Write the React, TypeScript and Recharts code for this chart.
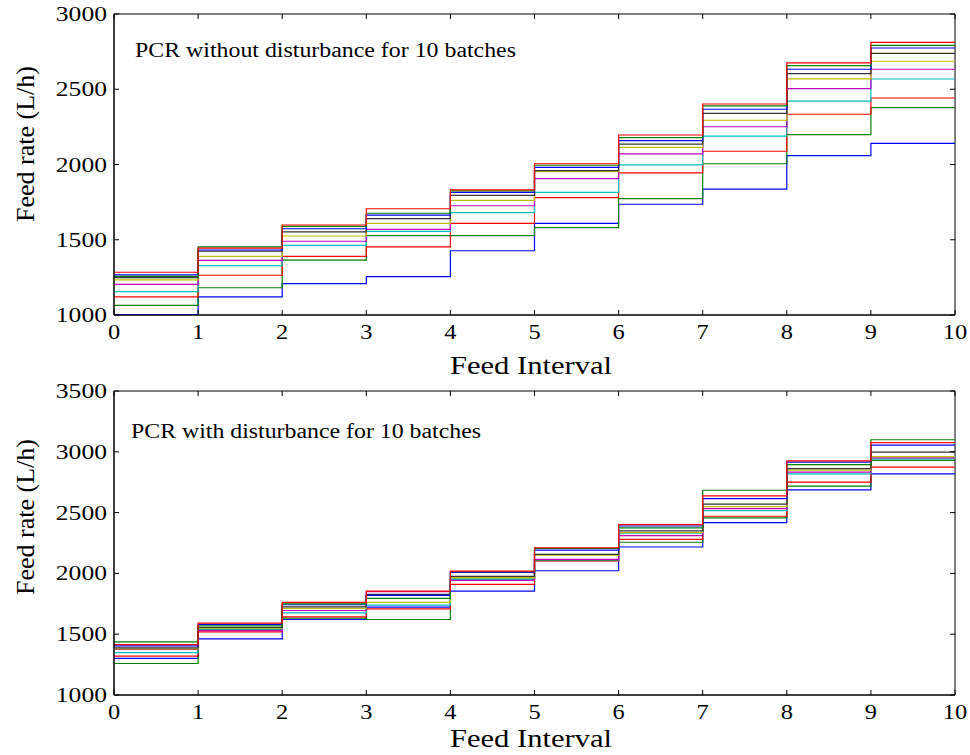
import { LineChart, Line, XAxis, YAxis, ReferenceArea } from "recharts";

// feed intervals 0..10 (last point closes the final step)
const intervals = [0, 1, 2, 3, 4, 5, 6, 7, 8, 9, 10];
const ticksTop = [1000, 1500, 2000, 2500, 3000];
const ticksBottom = [1000, 1500, 2000, 2500, 3000, 3500];

// PCR without disturbance, feed rate per interval for each batch
const cleanB1 = [1002, 1120, 1208, 1255, 1427, 1609, 1736, 1837, 2059, 2141];
const cleanB2 = [1064, 1181, 1365, 1527, 1527, 1580, 1773, 2005, 2199, 2378];
const cleanB3 = [1120, 1264, 1390, 1452, 1609, 1780, 1944, 2088, 2334, 2442];
const cleanB4 = [1155, 1328, 1463, 1556, 1680, 1815, 1997, 2188, 2421, 2568];
const cleanB5 = [1204, 1363, 1490, 1569, 1726, 1906, 2070, 2251, 2504, 2633];
const cleanB6 = [1233, 1390, 1525, 1609, 1762, 1952, 2114, 2294, 2569, 2686];
const cleanB7 = [1248, 1425, 1552, 1640, 1795, 1959, 2136, 2340, 2604, 2739];
const cleanB8 = [1266, 1432, 1573, 1663, 1815, 1981, 2158, 2367, 2633, 2774];
const cleanB9 = [1257, 1452, 1589, 1676, 1825, 1995, 2178, 2389, 2657, 2792];
const cleanB10 = [1284, 1445, 1598, 1706, 1831, 2005, 2196, 2402, 2675, 2812];

// PCR with disturbance
const distB1 = [1302, 1461, 1621, 1723, 1854, 2022, 2217, 2417, 2687, 2819];
const distB2 = [1259, 1540, 1632, 1621, 1962, 2105, 2256, 2456, 2717, 2930];
const distB3 = [1319, 1519, 1643, 1709, 1910, 2102, 2280, 2470, 2750, 2874];
const distB4 = [1349, 1536, 1676, 1739, 1951, 2110, 2330, 2516, 2819, 2942];
const distB5 = [1374, 1530, 1695, 1850, 1943, 2116, 2310, 2533, 2833, 2950];
const distB6 = [1380, 1550, 1712, 1761, 1966, 2150, 2335, 2549, 2850, 2961];
const distB7 = [1387, 1555, 1725, 1827, 1976, 2157, 2349, 2569, 2862, 2997];
const distB8 = [1404, 1580, 1742, 1820, 2009, 2192, 2390, 2615, 2915, 3055];
const distB9 = [1437, 1569, 1750, 1794, 2015, 2205, 2374, 2684, 2895, 3099];
const distB10 = [1415, 1591, 1761, 1854, 2019, 2211, 2401, 2637, 2926, 3076];

const colors = ["#0000ff", "#008000", "#ff0000", "#00bfbf", "#bf00bf", "#bfbf00", "#333333", "#0000ff", "#008000", "#ff0000"];

const FONT = '"Liberation Serif", "Times New Roman", serif';
const PLOT_LEFT = 114;
const PLOT_RIGHT = 955;
const TICK_LEN = 5;

function buildRows(series: number[][]) {
  return intervals.map((i) => {
    const row: Record<string, number> = { x: i };
    series.forEach((s, k) => {
      row["b" + (k + 1)] = s[Math.min(i, s.length - 1)];
    });
    return row;
  });
}

// x tick: inward marks on bottom and top edges, wide serif label below
const xTick = (plotTop: number) => (props: any) => {
  const { x, y, payload } = props;
  return (
    <g>
      <line x1={x} x2={x} y1={y} y2={y - TICK_LEN} stroke="#000" />
      <line x1={x} x2={x} y1={plotTop} y2={plotTop + TICK_LEN} stroke="#000" />
      <text transform={`translate(${x},${y + 24}) scale(1.22,1)`} textAnchor="middle" fontFamily={FONT} fontSize={20} fill="#000">
        {payload.value}
      </text>
    </g>
  );
};

// y tick: inward marks on left and right edges, label right-aligned
const yTick = (props: any) => {
  const { y, payload } = props;
  return (
    <g>
      <line x1={PLOT_LEFT} x2={PLOT_LEFT + TICK_LEN} y1={y} y2={y} stroke="#000" />
      <line x1={PLOT_RIGHT} x2={PLOT_RIGHT - TICK_LEN} y1={y} y2={y} stroke="#000" />
      <text transform={`translate(${PLOT_LEFT - 7},${y + 7}) scale(1.28,1)`} textAnchor="end" fontFamily={FONT} fontSize={20} fill="#000">
        {payload.value}
      </text>
    </g>
  );
};

function StepPanel({ series, domain, ticks, top, height, marginTop }: {
  series: number[][];
  domain: [number, number];
  ticks: number[];
  top: number;
  height: number;
  marginTop: number;
}) {
  const rows = buildRows(series);
  return (
    <div style={{ position: "absolute", left: 0, top }}>
      <LineChart width={970} height={height} data={rows} margin={{ top: marginTop, right: 970 - PLOT_RIGHT, left: 0, bottom: 0 }}>
        <XAxis
          dataKey="x" type="number" domain={[0, 10]} ticks={intervals} height={60}
          stroke="#000" tickLine={false} tickSize={0} tickMargin={0} tick={xTick(marginTop)} interval={0}
        />
        <YAxis
          type="number" domain={domain} ticks={ticks} width={PLOT_LEFT} allowDataOverflow
          stroke="#000" tickLine={false} tickSize={0} tickMargin={0} tick={yTick} interval={0}
        />
        {series.map((_, k) => (
          <Line
            key={k}
            type="stepAfter"
            dataKey={"b" + (k + 1)}
            stroke={colors[k]}
            strokeWidth={1.2}
            dot={false}
            isAnimationActive={false}
          />
        ))}
        <ReferenceArea x1={0} x2={10} y1={domain[0]} y2={domain[1]} fill="none" stroke="#000" strokeWidth={1} fillOpacity={0} />
      </LineChart>
    </div>
  );
}

export default function App() {
  return (
    <div style={{ position: "absolute", left: 0, top: 0, width: 970, height: 755, background: "#fff", overflow: "hidden" }}>
      <StepPanel
        series={[cleanB1, cleanB2, cleanB3, cleanB4, cleanB5, cleanB6, cleanB7, cleanB8, cleanB9, cleanB10]}
        domain={[1000, 3000]} ticks={ticksTop} top={0} height={375} marginTop={14}
      />
      <StepPanel
        series={[distB1, distB2, distB3, distB4, distB5, distB6, distB7, distB8, distB9, distB10]}
        domain={[1000, 3500]} ticks={ticksBottom} top={375} height={380} marginTop={16}
      />
      <svg width={970} height={755} style={{ position: "absolute", left: 0, top: 0, pointerEvents: "none" }} fontFamily={FONT} fill="#000">
        <text x={135} y={57} fontSize={20} textLength={381} lengthAdjust="spacingAndGlyphs">PCR without disturbance for 10 batches</text>
        <text x={131} y={438} fontSize={20} textLength={350} lengthAdjust="spacingAndGlyphs">PCR with disturbance for 10 batches</text>
        <text x={450} y={374} fontSize={26} textLength={162} lengthAdjust="spacingAndGlyphs">Feed Interval</text>
        <text x={450} y={747} fontSize={26} textLength={162} lengthAdjust="spacingAndGlyphs">Feed Interval</text>
        <text x={34} y={144} fontSize={26} textAnchor="middle" transform="rotate(-90 34 144)">Feed rate (L/h)</text>
        <text x={34} y={517} fontSize={26} textAnchor="middle" transform="rotate(-90 34 517)">Feed rate (L/h)</text>
      </svg>
    </div>
  );
}
